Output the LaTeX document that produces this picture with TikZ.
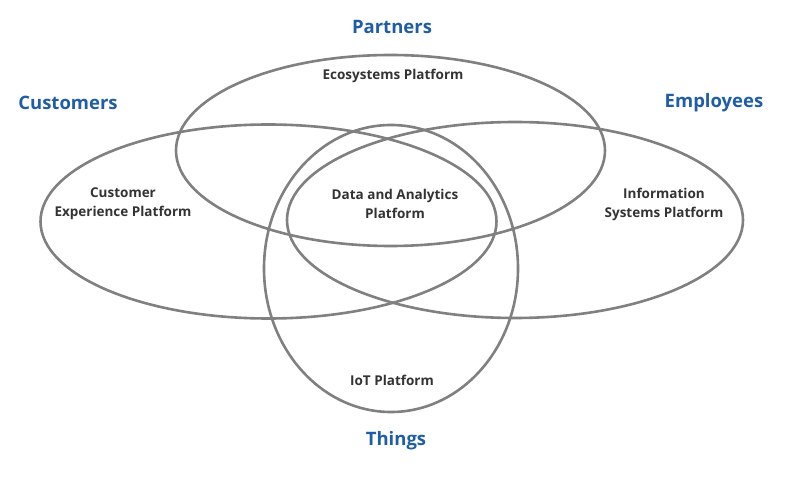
\documentclass[tikz,border=0pt]{standalone}
\usepackage{fontspec}
\setmainfont{Open Sans}
\definecolor{lbl}{HTML}{1F5DA6}
\definecolor{ring}{HTML}{808080}
\definecolor{txt}{HTML}{333333}
\begin{document}
\begin{tikzpicture}[x=1pt,y=-1pt,
  ring/.style={draw=ring,line width=2.6pt},
  head/.style={text=lbl,font=\bfseries\fontsize{18.5}{22}\selectfont},
  plat/.style={text=txt,font=\bfseries\fontsize{13.5}{19}\selectfont,align=center}]
\useasboundingbox (0,0) rectangle (792,478);
\draw[ring] (268.5,221.5) ellipse [x radius=228,y radius=97];
\draw[ring] (390.5,150.5) ellipse [x radius=214.5,y radius=95.5];
\draw[ring] (515,220) ellipse [x radius=228,y radius=98];
\draw[ring] (391,268.5) ellipse [x radius=127,y radius=143.5];
\node[head] (partners) at (392,27) {Partners};
\node[head] (customers) at (68,103) {Customers};
\node[head] (employees) at (714,103) {Employees};
\node[head] (things) at (396,441) {Things};
\node[plat] (eco) at (393,76) {Ecosystems Platform};
\node[plat] (cx) at (123,204) {Customer\\Experience Platform};
\node[plat] (da) at (395,204) {Data and Analytics\\Platform};
\node[plat] (is) at (664,204) {Information\\Systems Platform};
\node[plat] (iot) at (392,380) {IoT Platform};
\end{tikzpicture}
\end{document}
